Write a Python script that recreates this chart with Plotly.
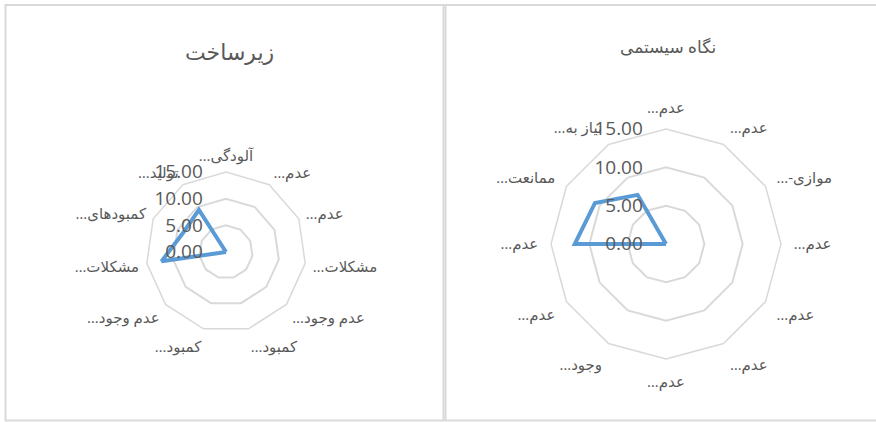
import plotly.graph_objects as go

# ---- data ----
left_title = "زیرساخت"
left_labels = ["آلودگی…", "عدم…", "عدم…", "مشکلات…", "عدم وجود…", "کمبود…",
               "کمبود…", "عدم وجود…", "مشکلات…", "کمبودهای…", "تولید…"]
left_values = [0, 0, 0, 0, 0, 0, 0, 0, 12.2, 8.8, 9.4]

right_title = "نگاه سیستمی"
right_labels = ["عدم…", "عدم…", "موازی-…", "عدم…", "عدم…", "عدم…",
                "عدم…", "وجود…", "عدم…", "عدم…", "ممانعت…", "نیاز به…"]
right_values = [0, 0, 0, 0, 0, 0, 0, 0, 0, 11.9, 10.7, 7.4]

radial_ticks = [0, 5, 10, 15]

W, H = 876, 422
TXT = "#595959"
GRID = "#d9d9d9"
LINE = "#5B9BD5"
FONT = "Open Sans, DejaVu Sans, sans-serif"


def uniq(labels):
    # RLM keeps the ellipsis on the left (RTL) and makes repeated labels distinct
    return [lab + "\u200f" * (i + 1) for i, lab in enumerate(labels)]


def closed(seq):
    return list(seq) + [seq[0]]


fig = go.Figure()

fig.add_trace(go.Scatterpolar(
    r=closed(left_values), theta=closed(uniq(left_labels)),
    mode="lines", line=dict(color=LINE, width=4), subplot="polar",
    showlegend=False, hoverinfo="skip"))
fig.add_trace(go.Scatterpolar(
    r=closed(right_values), theta=closed(uniq(right_labels)),
    mode="lines", line=dict(color=LINE, width=4), subplot="polar2",
    showlegend=False, hoverinfo="skip"))


def dom(cx, cy, R):
    return dict(x=[(cx - R) / W, (cx + R) / W], y=[1 - (cy + R) / H, 1 - (cy - R) / H])


def polar_cfg(cx, cy, R, labels, tfs, rfs, alen):
    return dict(
        domain=dom(cx, cy, R),
        bgcolor="rgba(0,0,0,0)",
        gridshape="linear",
        angularaxis=dict(type="category", categoryarray=uniq(labels),
                         direction="clockwise", rotation=90,
                         showline=True, linecolor=GRID, linewidth=1.5,
                         showgrid=False,
                         ticks="outside", ticklen=alen, tickcolor="rgba(0,0,0,0)",
                         tickfont=dict(size=tfs, color=TXT, family=FONT)),
        radialaxis=dict(range=[0, 15], tickvals=radial_ticks, tickformat=".2f",
                        angle=90, tickangle=90, side="counterclockwise",
                        showline=False, gridcolor=GRID, gridwidth=1.5,
                        ticks="outside", ticklen=16, tickcolor="rgba(0,0,0,0)",
                        tickfont=dict(size=rfs, color=TXT, family=FONT)),
    )


fig.update_layout(
    width=W, height=H,
    margin=dict(l=0, r=0, t=0, b=0),
    paper_bgcolor="white",
    polar=polar_cfg(226, 252, 80, left_labels, 15, 19, 4),
    polar2=polar_cfg(666, 244, 115, right_labels, 15, 19, 9),
    shapes=[
        dict(type="rect", xref="paper", yref="paper",
             x0=5.5 / W, x1=443.5 / W, y0=1 - 420.5 / H, y1=1 - 5 / H,
             line=dict(color=GRID, width=2)),
        dict(type="rect", xref="paper", yref="paper",
             x0=445.5 / W, x1=880 / W, y0=1 - 420.5 / H, y1=1 - 5 / H,
             line=dict(color=GRID, width=2)),
    ],
    annotations=[
        dict(text=left_title, x=229 / W, y=1 - 51 / H, xref="paper", yref="paper",
             xanchor="center", yanchor="middle",
             showarrow=False, font=dict(size=22, color=TXT, family=FONT)),
        dict(text=right_title, x=668 / W, y=1 - 47 / H, xref="paper", yref="paper",
             xanchor="center", yanchor="middle",
             showarrow=False, font=dict(size=17, color=TXT, family=FONT)),
    ],
)

fig.write_html("out.html", config={"displayModeBar": False},
               post_script="document.body.style.margin='0px';")
